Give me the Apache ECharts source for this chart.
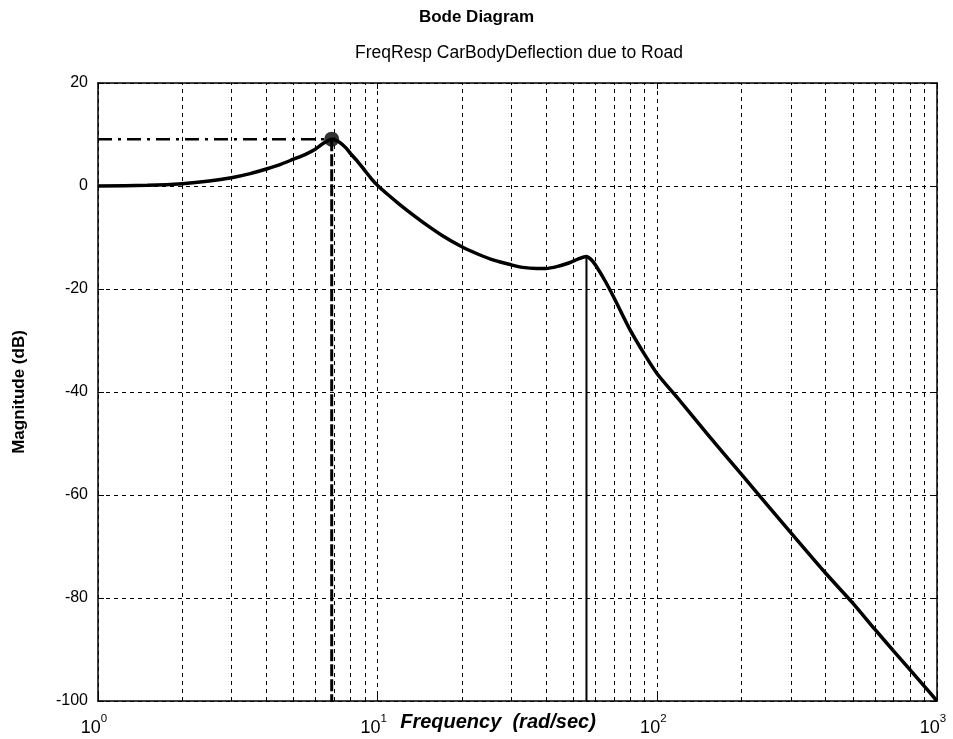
<!DOCTYPE html>
<html>
<head>
<meta charset="utf-8">
<script src="https://cdn.jsdelivr.net/npm/echarts@6/dist/echarts.min.js"></script>
<style>
html,body{margin:0;padding:0;background:#fff;}
#chart{width:953px;height:739px;}
</style>
</head>
<body>
<div id="chart"></div>
<script>
// ---- data ----
const freqs = [1, 1.5, 2, 2.5, 3, 3.5, 4, 4.5, 5, 5.5, 6, 6.4, 6.85, 7.3, 7.7, 8, 8.5, 9, 9.5, 10, 11, 12, 13.3, 15, 17, 20, 23, 26, 30, 33, 37, 40, 44, 48.5, 52, 55.8, 58, 60, 65, 70, 80, 90, 100, 120, 150, 200, 300, 400, 500, 600, 700, 800, 900, 1000];
const magDb = [0, 0.15, 0.45, 0.95, 1.6, 2.4, 3.3, 4.2, 5.2, 6.1, 7.2, 8.3, 9.1, 8.5, 7.4, 6.3, 4.7, 3.0, 1.4, 0.1, -1.9, -3.6, -5.5, -7.6, -9.6, -11.8, -13.3, -14.4, -15.3, -15.8, -16.0, -16.0, -15.6, -14.9, -14.2, -13.7, -14.3, -15.3, -18.4, -21.7, -28.0, -32.7, -36.5, -41.6, -48.0, -56.0, -67.3, -75.2, -81.0, -86.1, -90.3, -93.9, -97.1, -100];
const peakFreq = [6.85];
const peakMag = [9.1];
const hopFreq = [55.8];
const hopMag = [-13.7];
const minorGridFreqs = [2, 3, 4, 5, 6, 7, 8, 9, 20, 30, 40, 50, 60, 70, 80, 90, 200, 300, 400, 500, 600, 700, 800, 900];
const yMin = -100, yMax = 20, yStep = 20;
const xMin = 1, xMax = 1000;

const FONT = '"Liberation Sans", Arial, Helvetica, sans-serif';
const chart = echarts.init(document.getElementById('chart'), null, {renderer: 'canvas'});

const curve = freqs.map((f, i) => [f, magDb[i]]);
const gridDash = [4, 4];

const option = {
  backgroundColor: '#fff',
  animation: false,
  title: [
    {text: 'Bode Diagram', left: 'center', top: 9, padding: 0,
     textStyle: {fontFamily: FONT, fontSize: 17, fontWeight: 'bold', color: '#000'}},
    {text: 'FreqResp CarBodyDeflection due to Road', left: 519, textAlign: 'center', top: 44, padding: 0,
     textStyle: {fontFamily: FONT, fontSize: 17.5, fontWeight: 'normal', color: '#000'}}
  ],
  grid: {left: 98, right: 16, top: 83, bottom: 38, containLabel: false, outerBoundsMode: 'none'},
  xAxis: [
    {
      type: 'log', logBase: 10, min: xMin, max: xMax, position: 'bottom',
      axisLine: {onZero: false, lineStyle: {color: '#000', width: 1.5}},
      axisTick: {inside: true, length: 6, lineStyle: {color: '#000'}},
      axisLabel: {
        margin: 12,
        padding: [0, 8, 0, 0],
        formatter: v => '{b|10}{s|' + Math.round(Math.log10(v)) + '}',
        rich: {
          b: {fontFamily: FONT, fontSize: 18, color: '#000', lineHeight: 24, verticalAlign: 'bottom'},
          s: {fontFamily: FONT, fontSize: 11.5, color: '#000', lineHeight: 12, verticalAlign: 'top'}
        }
      },
      splitLine: {show: true, lineStyle: {color: '#000', type: gridDash, width: 1}},
      name: 'Frequency\u00a0\u00a0(rad/sec)',
      nameLocation: 'middle', nameGap: 11, nameMoveOverlap: false,
      nameTextStyle: {fontFamily: FONT, fontSize: 20, fontWeight: 'bold', fontStyle: 'italic', color: '#000', padding: [0, 39, 0, 0]}
    },
    {
      type: 'log', logBase: 10, min: xMin, max: xMax, position: 'top',
      axisLine: {onZero: false, lineStyle: {color: '#000', width: 1.5}},
      axisTick: {inside: true, length: 6, lineStyle: {color: '#000'}},
      axisLabel: {show: false},
      splitLine: {show: false}
    }
  ],
  yAxis: [
    {
      type: 'value', min: yMin, max: yMax, interval: yStep, position: 'left',
      axisLine: {show: true, onZero: false, lineStyle: {color: '#000', width: 1.5}},
      axisTick: {show: true, inside: true, length: 6, lineStyle: {color: '#000'}},
      axisLabel: {margin: 10, fontFamily: FONT, fontSize: 16, color: '#000'},
      splitLine: {show: true, lineStyle: {color: '#000', type: gridDash, width: 1}},
      name: 'Magnitude (dB)', nameLocation: 'middle', nameGap: 70, nameMoveOverlap: false,
      nameTextStyle: {fontFamily: FONT, fontSize: 17, fontWeight: 'bold', color: '#000'}
    },
    {
      type: 'value', min: yMin, max: yMax, interval: yStep, position: 'right',
      axisLine: {show: true, onZero: false, lineStyle: {color: '#000', width: 1.5}},
      axisTick: {show: true, inside: true, length: 6, lineStyle: {color: '#000'}},
      axisLabel: {show: false},
      splitLine: {show: false}
    }
  ],
  series: [
    {
      name: 'minorGrid', type: 'line', data: [], silent: true, symbol: 'none',
      markLine: {
        silent: true, symbol: 'none', animation: false,
        label: {show: false},
        lineStyle: {color: '#000', type: gridDash, width: 1},
        data: minorGridFreqs.map(f => ({xAxis: f}))
      }
    },
    {
      name: 'magnitude', type: 'line', data: curve, symbol: 'none', smooth: 0.25,
      lineStyle: {color: '#000', width: 3.5}, z: 5
    },
    {
      name: 'peakLevel', type: 'line', symbol: 'none',
      data: [[xMin, peakMag[0]], [peakFreq[0], peakMag[0]]],
      lineStyle: {color: '#000', width: 2.5, type: [14, 6, 3, 6]}, z: 4
    },
    {
      name: 'peakDrop', type: 'line', symbol: 'none',
      data: [[peakFreq[0], peakMag[0]], [peakFreq[0], yMin]],
      lineStyle: {color: '#000', width: 3, type: [12, 3]}, z: 4
    },
    {
      name: 'hopDrop', type: 'line', symbol: 'none',
      data: [[hopFreq[0], hopMag[0]], [hopFreq[0], yMin]],
      lineStyle: {color: '#000', width: 2}, z: 4
    },
    {
      name: 'peakMarker', type: 'scatter', symbol: 'circle', symbolSize: 15,
      data: [[peakFreq[0], peakMag[0]]],
      itemStyle: {color: '#000'}, z: 6
    }
  ]
};
chart.setOption(option);
</script>
</body>
</html>
